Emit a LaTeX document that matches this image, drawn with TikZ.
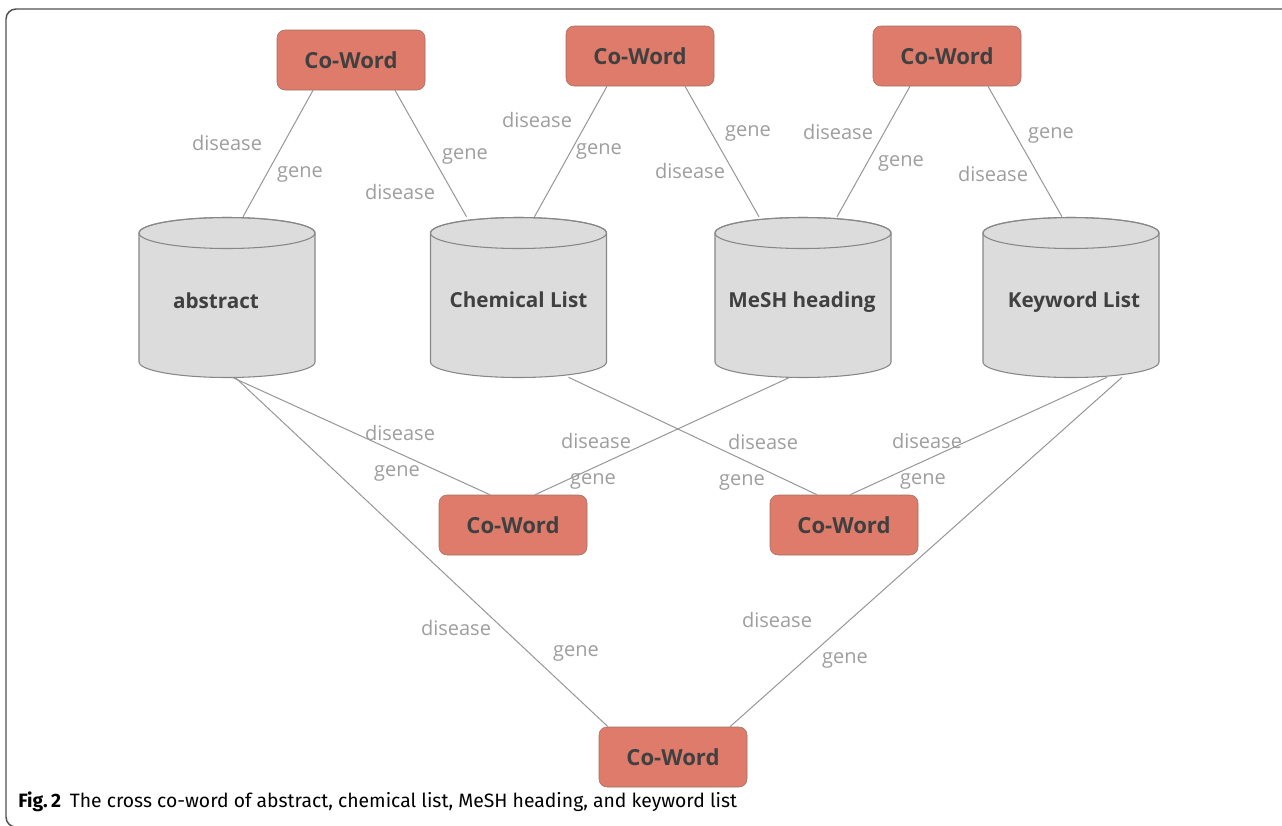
\documentclass[tikz,border=0pt]{standalone}
\usepackage{fontspec}
\setmainfont{Open Sans}
\newfontfamily\capfont{Fira Sans}
\usetikzlibrary{calc}
\definecolor{cwfill}{RGB}{222,123,106}
\definecolor{cwline}{RGB}{160,110,100}
\definecolor{dbfill}{RGB}{220,220,220}
\definecolor{dbline}{RGB}{135,135,135}
\definecolor{txtdark}{RGB}{64,64,64}
\definecolor{lnkgray}{RGB}{150,150,150}
\definecolor{labgray}{RGB}{158,158,158}
\definecolor{framecol}{RGB}{80,80,80}
\tikzset{
  cw/.style    ={rectangle,rounded corners=6pt,draw=cwline,fill=cwfill,minimum width=111pt,minimum height=45pt,inner sep=0pt,font=\fontsize{16.6}{18}\selectfont\bfseries,text=txtdark},
  dbbody/.style={rectangle,minimum width=132pt,minimum height=120pt,inner sep=0pt},
  dbshape/.style={draw=dbline,fill=dbfill,line width=0.8pt},
  dbtext/.style={font=\fontsize{15.5}{18}\selectfont\bfseries,text=txtdark},
  lnk/.style   ={draw=lnkgray,line width=0.75pt},
  lab/.style   ={font=\fontsize{15}{17}\selectfont,text=labgray,inner sep=0pt},
  frame/.style ={draw=framecol,line width=1.1pt,rounded corners=7.5pt},
}
\begin{document}
\begin{tikzpicture}[x=0.75pt,y=-0.75pt]
  \useasboundingbox (0,0) rectangle (1282,825);
  % open frame (top and left edges)
  \draw[frame] (1300,9) -- (6,9) -- (6,827) -- (60,827);
  % databases
  \foreach \cx/\nm in {227/abs,518.5/chem,803/mesh,1071/key}{
    \draw[dbshape] (\cx-88,233) -- (\cx-88,362)
      arc[start angle=180,end angle=0,x radius=88,y radius=15.5] -- (\cx+88,233)
      arc[start angle=0,end angle=-180,x radius=88,y radius=15.5] -- cycle;
    \draw[dbshape,fill=none] (\cx,233) ellipse[x radius=88,y radius=15.5];
    \node[dbbody] (\nm) at (\cx,297) {};
  }
  \node[dbtext] (abs-t)  at (216,301)   {abstract};
  \node[dbtext] (chem-t) at (518.5,300) {Chemical List};
  \node[dbtext] (mesh-t) at (802,302)   {MeSH heading};
  \node[dbtext] (key-t)  at (1074,302)  {Keyword List};
  % co-word boxes
  \node[cw] (cw1) at (351,60)  {Co-Word};
  \node[cw] (cw2) at (640,56)  {Co-Word};
  \node[cw] (cw3) at (947,56)  {Co-Word};
  \node[cw] (cw4) at (513,525) {Co-Word};
  \node[cw] (cw5) at (844,525) {Co-Word};
  \node[cw] (cw6) at (673,757) {Co-Word};
  % upper links
  \draw[lnk] ($(cw1.south)+(-38,0)$) -- ($(abs.north)+(16,0)$);
  \draw[lnk] ($(cw1.south)+(44,0)$)  -- ($(chem.north)+(-52,0)$);
  \draw[lnk] ($(cw2.south)+(-33,0)$) -- ($(chem.north)+(16,0)$);
  \draw[lnk] ($(cw2.south)+(45,0)$)  -- ($(mesh.north)+(-44,0)$);
  \draw[lnk] ($(cw3.south)+(-37,0)$) -- ($(mesh.north)+(34,0)$);
  \draw[lnk] ($(cw3.south)+(41,0)$)  -- ($(key.north)+(-9,0)$);
  % lower links
  \draw[lnk] ($(abs.south)+(5,0)$)   -- ($(cw4.north)+(-23,0)$);
  \draw[lnk] ($(mesh.south)+(-13,0)$) -- ($(cw4.north)+(22,0)$);
  \draw[lnk] ($(chem.south)+(50,0)$) -- ($(cw5.north)+(-27,0)$);
  \draw[lnk] ($(key.south)+(36,0)$)  -- ($(cw5.north)+(6,0)$);
  \draw[lnk] ($(abs.south)+(8,0)$)   -- ($(cw6.north)+(-65,0)$);
  \draw[lnk] ($(key.south)+(51,0)$)  -- ($(cw6.north)+(57,0)$);
  % link labels
  \node[lab] (l1d) at (227,143) {disease};  \node[lab] (l1g) at (300,174) {gene};
  \node[lab] (l2g) at (465,156) {gene};     \node[lab] (l2d) at (400,192) {disease};
  \node[lab] (l3d) at (537,120) {disease};  \node[lab] (l3g) at (599,151) {gene};
  \node[lab] (l4g) at (748,133) {gene};     \node[lab] (l4d) at (690,171) {disease};
  \node[lab] (l5d) at (838,132) {disease};  \node[lab] (l5g) at (901,163) {gene};
  \node[lab] (l6g) at (1051,135) {gene};    \node[lab] (l6d) at (993,174) {disease};
  \node[lab] (l7d) at (400,433) {disease};  \node[lab] (l7g) at (397,473) {gene};
  \node[lab] (l8d) at (596,441) {disease};  \node[lab] (l8g) at (593,481) {gene};
  \node[lab] (l9d) at (763,442) {disease};  \node[lab] (l9g) at (742,482) {gene};
  \node[lab] (l10d) at (927,441) {disease}; \node[lab] (l10g) at (923,481) {gene};
  \node[lab] (l11d) at (456,628) {disease}; \node[lab] (l11g) at (576,653) {gene};
  \node[lab] (l12d) at (777,620) {disease}; \node[lab] (l12g) at (845,660) {gene};
  % caption
  \node[anchor=base west,inner sep=0pt,font=\capfont\fontsize{14.5}{16}\selectfont] (cap) at (18,807)
    {\textbf{Fig.\,2}\hspace{0.45em}The cross co-word of abstract, chemical list, MeSH heading, and keyword list};
\end{tikzpicture}
\end{document}
